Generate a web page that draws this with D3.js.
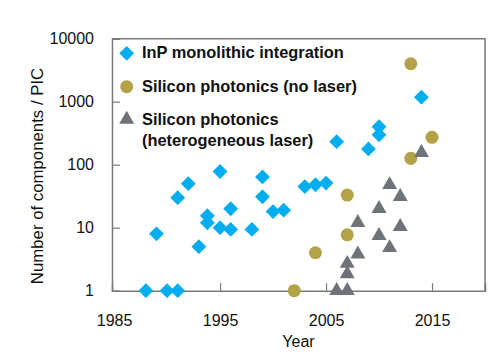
<!DOCTYPE html>
<html><head><meta charset="utf-8">
<script src="https://cdn.jsdelivr.net/npm/d3@7"></script>
<style>
html,body{margin:0;padding:0;background:#fff;}
svg text{font-family:"Liberation Sans",Arial,Helvetica,sans-serif;fill:#111;}
</style></head>
<body><svg id="chart" width="500" height="354"></svg>
<script>
// ---- data ----
const inpYears  = [1988,1989,1990,1991,1991,1992,1993,1993.8,1993.8,1995,1995,1996,1996,1998,1999,1999,2000,2001,2003,2004,2005,2006,2009,2010,2010,2014];
const inpValues = [1,8,1,1,30,50,5,15.5,12,78,10,20,9.4,9.4,64,31,18,19,45,48,51,232,178,400,298,1180];
const siYears   = [2002,2004,2007,2007,2013,2013,2015];
const siValues  = [1,4,33,7.7,4000,126,272];
const hetYears  = [2006,2007,2007,2007,2008,2008,2010,2010,2011,2011,2012,2012,2014];
const hetValues = [1,1,1.85,2.7,3.8,12,20,7.5,48,4.8,31,10.4,155];
const yTicks = [1,10,100,1000,10000];
const xTicks = [1985,1995,2005,2015];
const seriesNames = ["InP monolithic integration","Silicon photonics (no laser)",["Silicon photonics","(heterogeneous laser)"]];
const colors = {inp:"#00AEEF", si:"#B3A247", het:"#6D7379"};

const svg = d3.select("#chart");
const x = d3.scaleLinear().domain([1984.8,2020]).range([112,485]);
const y = d3.scaleLog().domain([1,10000]).range([290.7,38.7]);
const axisColor = "#7a7a7a";

// frame (top / right)
svg.append("path").attr("d",`M${x(1984.8)},${y(10000)}H${x(2020)}V${y(1)}`)
  .attr("fill","none").attr("stroke",axisColor).attr("stroke-width",1.5);

// y axis
const yAxis = svg.append("g").attr("transform",`translate(${x(1984.8)},0)`)
  .call(d3.axisLeft(y).tickValues(yTicks).tickFormat(d3.format("d")).tickSize(-8).tickPadding(18));
yAxis.select(".domain").attr("stroke",axisColor).attr("stroke-width",1.5);
yAxis.selectAll(".tick line").attr("stroke",axisColor).attr("stroke-width",1.2)
  .filter(d=>d===1||d===10000).remove();
yAxis.selectAll(".tick text").attr("font-size",16).attr("fill","#111")
  .attr("font-family","Liberation Sans, Arial, sans-serif");

// x axis
const xAxis = svg.append("g").attr("transform",`translate(0,${y(1)})`)
  .call(d3.axisBottom(x).tickValues(xTicks).tickFormat(d3.format("d")).tickSize(-7.5).tickPadding(24));
xAxis.select(".domain").attr("stroke",axisColor).attr("stroke-width",1.5);
xAxis.selectAll(".tick line").attr("stroke",axisColor).attr("stroke-width",1.2)
  .filter(d=>d===1985).remove();
xAxis.selectAll(".tick text").attr("font-size",16).attr("fill","#111")
  .attr("font-family","Liberation Sans, Arial, sans-serif");

// axis titles
svg.append("text").attr("x",298.5).attr("y",346.5).attr("text-anchor","middle")
  .attr("font-size",16).text("Year");
svg.append("text").attr("transform","translate(43,176) rotate(-90)").attr("text-anchor","middle")
  .attr("font-size",16.8).text("Number of components / PIC");

// markers
const diamond = d3.symbol(d3.symbolSquare, 110);
const circle = d3.symbol(d3.symbolCircle, 133);
const tri = d3.symbol(d3.symbolTriangle, 97);

svg.append("g").selectAll("path").data(inpYears.map((d,i)=>[d,inpValues[i]])).join("path")
  .attr("d",diamond).attr("fill",colors.inp)
  .attr("transform",d=>`translate(${x(d[0])},${y(d[1])}) rotate(45)`);
svg.append("g").selectAll("path").data(siYears.map((d,i)=>[d,siValues[i]])).join("path")
  .attr("d",circle).attr("fill",colors.si)
  .attr("transform",d=>`translate(${x(d[0])},${y(d[1])})`);
svg.append("g").selectAll("path").data(hetYears.map((d,i)=>[d,hetValues[i]])).join("path")
  .attr("d",tri).attr("fill",colors.het)
  .attr("transform",d=>`translate(${x(d[0])},${y(d[1])})`);

// legend
const lg = svg.append("g");
const lx = 126.7, tx = 142, lfs = 16.4;
lg.append("path").attr("d",diamond).attr("fill",colors.inp).attr("transform",`translate(${lx},53.3) rotate(45)`);
lg.append("path").attr("d",circle).attr("fill",colors.si).attr("transform",`translate(${lx},86.7)`);
lg.append("path").attr("d",tri).attr("fill",colors.het).attr("transform",`translate(${lx},119.5)`);
lg.append("text").attr("x",tx).attr("y",58.3).attr("font-size",lfs).attr("font-weight","bold").text(seriesNames[0]);
lg.append("text").attr("x",tx).attr("y",91.7).attr("font-size",lfs).attr("font-weight","bold").text(seriesNames[1]);
lg.append("text").attr("x",tx).attr("y",125).attr("font-size",lfs).attr("font-weight","bold").text(seriesNames[2][0]);
lg.append("text").attr("x",tx).attr("y",145.5).attr("font-size",lfs).attr("font-weight","bold").text(seriesNames[2][1]);
</script></body></html>
